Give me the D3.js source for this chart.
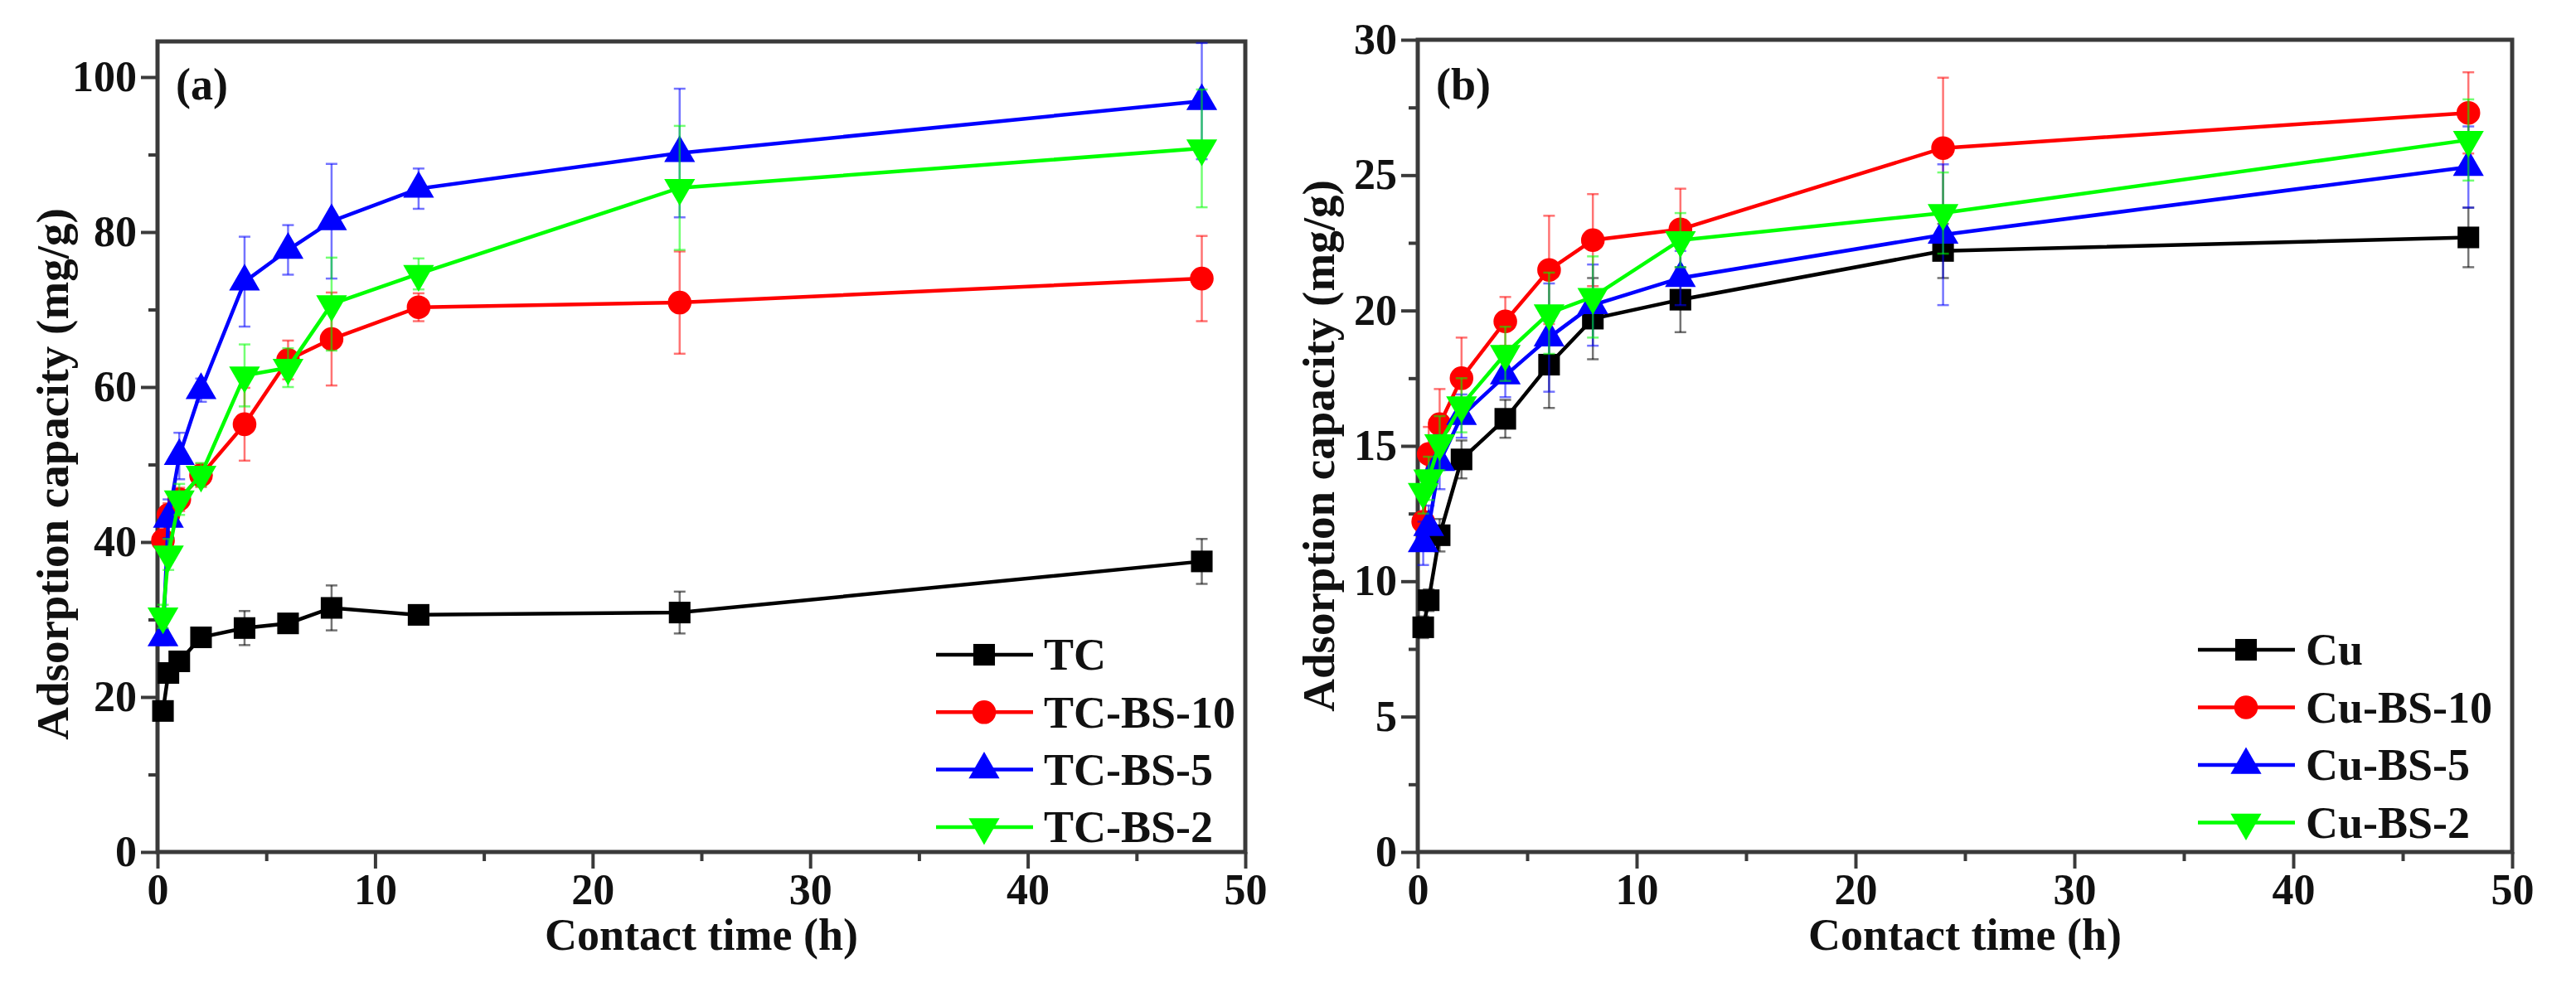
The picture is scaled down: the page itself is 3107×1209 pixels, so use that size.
<!DOCTYPE html>
<html>
<head>
<meta charset="utf-8">
<script src="https://cdn.jsdelivr.net/npm/d3@7"></script>
<style>
  body { margin: 0; background: #fff; }
  svg { display: block; }
  text { font-family: "Liberation Serif", "Times New Roman", serif; font-weight: bold; fill: #111; }
</style>
</head>
<body>
<svg id="chart"></svg>
<script>
// size
const width = 3107;
const height = 1209;

// contact times (h), shared by both panels
const times = [0.25, 0.5, 1, 2, 4, 6, 8, 12, 24, 48];

// panel (a) - tetracycline
const tcNames = ["TC", "TC-BS-10", "TC-BS-5", "TC-BS-2"];
const tcPlain = [18.2, 23.1, 24.6, 27.7, 28.9, 29.5, 31.5, 30.6, 30.9, 37.5];
const tcPlainErr = [0.8, 1.0, 1.0, 1.2, 2.2, 1.0, 2.9, 1.0, 2.7, 2.9];
const tcBs10 = [40.2, 43.5, 45.5, 48.6, 55.2, 63.5, 66.2, 70.3, 70.9, 74.0];
const tcBs10Err = [1.5, 1.5, 1.5, 1.5, 4.7, 2.5, 6.0, 1.8, 6.6, 5.5];
const tcBs5 = [27.7, 43.0, 51.1, 59.6, 73.6, 77.7, 81.4, 85.6, 90.2, 96.9];
const tcBs5Err = [1.0, 2.5, 3.0, 1.5, 5.8, 3.2, 7.4, 2.6, 8.3, 7.5];
const tcBs2 = [30.4, 38.4, 45.5, 48.7, 61.5, 62.5, 70.7, 74.6, 85.7, 90.8];
const tcBs2Err = [1.5, 2.0, 2.0, 1.5, 4.0, 2.5, 6.0, 2.0, 8.0, 7.6];

// panel (b) - copper
const cuNames = ["Cu", "Cu-BS-10", "Cu-BS-5", "Cu-BS-2"];
const cuPlain = [8.3, 9.3, 11.7, 14.5, 16.0, 18.0, 19.7, 20.4, 22.2, 22.7];
const cuPlainErr = [0.4, 0.4, 0.6, 0.7, 0.7, 1.6, 1.5, 1.2, 1.0, 1.1];
const cuBs10 = [12.2, 14.7, 15.8, 17.5, 19.6, 21.5, 22.6, 23.0, 26.0, 27.3];
const cuBs10Err = [1.0, 1.0, 1.3, 1.5, 0.9, 2.0, 1.7, 1.5, 2.6, 1.5];
const cuBs5 = [11.4, 12.0, 14.4, 16.1, 17.6, 19.0, 20.2, 21.2, 22.8, 25.3];
const cuBs5Err = [0.8, 0.8, 1.0, 0.8, 0.8, 2.0, 1.5, 1.0, 2.6, 1.5];
const cuBs2 = [13.3, 13.8, 15.1, 16.5, 18.4, 19.9, 20.5, 22.6, 23.6, 26.3];
const cuBs2Err = [0.8, 0.8, 1.0, 1.0, 1.0, 1.5, 1.5, 1.0, 1.5, 1.5];

// tick values
const xTicks = [0, 10, 20, 30, 40, 50];
const xMinor = [5, 15, 25, 35, 45];
const yTicksA = [0, 20, 40, 60, 80, 100];
const yMinorA = [10, 30, 50, 70, 90];
const yTicksB = [0, 5, 10, 15, 20, 25, 30];
const yMinorB = [2.5, 7.5, 12.5, 17.5, 22.5, 27.5];

// styles per series: square, circle, up triangle, down triangle
const colors = ["#000000", "#ff0000", "#0000ff", "#00ff00"];
const symbols = [d3.symbolSquare, d3.symbolCircle, d3.symbolTriangle, d3.symbolTriangle];
const symbolSize = [680, 640, 600, 600];
const symbolRot = [0, 0, 0, 180];

const svg = d3.select("#chart")
    .attr("width", width)
    .attr("height", height);

svg.append("rect").attr("width", width).attr("height", height).attr("fill", "#fff");

function build(names, vals, errs) {
    return names.map((name, i) => ({
        name: name,
        idx: i,
        points: times.map((t, j) => ({ t: t, v: vals[i][j], e: errs[i][j] }))
    }));
}

// draw one panel
function panel(cfg) {
    const x = d3.scaleLinear().domain([0, 50]).range([cfg.left, cfg.right]);
    const y = d3.scaleLinear().domain([0, cfg.yMax]).range([cfg.bottom, cfg.top]);
    const g = svg.append("g");

    // frame
    g.append("rect")
        .attr("x", cfg.left).attr("y", cfg.top)
        .attr("width", cfg.right - cfg.left).attr("height", cfg.bottom - cfg.top)
        .attr("fill", "none").attr("stroke", "#3a3a3a").attr("stroke-width", 5);

    // minor ticks
    g.append("g").attr("transform", `translate(0,${cfg.bottom})`)
        .call(d3.axisBottom(x).tickValues(xMinor).tickSize(11).tickFormat(""))
        .call(a => a.select(".domain").remove())
        .selectAll("line").attr("stroke", "#3a3a3a").attr("stroke-width", 4);
    g.append("g").attr("transform", `translate(${cfg.left},0)`)
        .call(d3.axisLeft(y).tickValues(cfg.yMinor).tickSize(11).tickFormat(""))
        .call(a => a.select(".domain").remove())
        .selectAll("line").attr("stroke", "#3a3a3a").attr("stroke-width", 4);

    // major ticks + labels
    const gx = g.append("g").attr("transform", `translate(0,${cfg.bottom})`)
        .call(d3.axisBottom(x).tickValues(xTicks).tickSize(20).tickPadding(6).tickFormat(d3.format("d")));
    const gy = g.append("g").attr("transform", `translate(${cfg.left},0)`)
        .call(d3.axisLeft(y).tickValues(cfg.yTicks).tickSize(20).tickPadding(5).tickFormat(d3.format("d")));
    [gx, gy].forEach(a => {
        a.select(".domain").remove();
        a.selectAll("line").attr("stroke", "#3a3a3a").attr("stroke-width", 4);
        a.selectAll("text")
            .attr("font-family", "'Liberation Serif', 'Times New Roman', serif")
            .attr("font-weight", "bold")
            .attr("font-size", 52)
            .attr("fill", "#111");
    });

    // axis titles
    g.append("text")
        .attr("text-anchor", "middle")
        .attr("font-size", 54)
        .attr("x", (cfg.left + cfg.right) / 2).attr("y", 1146)
        .text("Contact time (h)");
    g.append("text")
        .attr("text-anchor", "middle")
        .attr("font-size", 55)
        .attr("transform", `translate(${cfg.yTitleX}, ${cfg.yTitleY}) rotate(-90)`)
        .text("Adsorption capacity (mg/g)");

    // panel letter
    g.append("text")
        .attr("font-size", 54)
        .attr("x", cfg.left + 22).attr("y", 120)
        .text(cfg.letter);

    const line = d3.line().x(d => x(d.t)).y(d => y(d.v));

    cfg.series.forEach(s => {
        const sg = g.append("g");
        const col = colors[s.idx];

        sg.append("path")
            .datum(s.points)
            .attr("d", line)
            .attr("fill", "none")
            .attr("stroke", col)
            .attr("stroke-width", 4.5);

        // error bars
        const eb = sg.selectAll(".err")
            .data(s.points)
            .enter()
            .append("g")
            .attr("stroke", col)
            .attr("stroke-opacity", 0.55)
            .attr("stroke-width", 2.5);
        eb.append("line")
            .attr("x1", d => x(d.t)).attr("x2", d => x(d.t))
            .attr("y1", d => y(d.v - d.e)).attr("y2", d => y(d.v + d.e));
        eb.append("line")
            .attr("x1", d => x(d.t) - 7).attr("x2", d => x(d.t) + 7)
            .attr("y1", d => y(d.v + d.e)).attr("y2", d => y(d.v + d.e));
        eb.append("line")
            .attr("x1", d => x(d.t) - 7).attr("x2", d => x(d.t) + 7)
            .attr("y1", d => y(d.v - d.e)).attr("y2", d => y(d.v - d.e));

        // markers
        sg.selectAll(".mk")
            .data(s.points)
            .enter()
            .append("path")
            .attr("d", d3.symbol().type(symbols[s.idx]).size(symbolSize[s.idx]))
            .attr("transform", d => `translate(${x(d.t)},${y(d.v)}) rotate(${symbolRot[s.idx]})`)
            .attr("fill", col);
    });

    // legend
    const lg = g.append("g");
    cfg.series.forEach((s, i) => {
        const cy = cfg.legTop + i * cfg.legStep;
        const col = colors[s.idx];
        lg.append("line")
            .attr("x1", cfg.legX).attr("x2", cfg.legX + 117)
            .attr("y1", cy).attr("y2", cy)
            .attr("stroke", col).attr("stroke-width", 4.5);
        lg.append("path")
            .attr("d", d3.symbol().type(symbols[s.idx]).size(symbolSize[s.idx]))
            .attr("transform", `translate(${cfg.legX + 58},${cy}) rotate(${symbolRot[s.idx]})`)
            .attr("fill", col);
        lg.append("text")
            .attr("x", cfg.legX + 130).attr("y", cy)
            .attr("dy", "0.34em")
            .attr("font-size", 54)
            .text(s.name);
    });
}

panel({
    left: 190, right: 1502, top: 50, bottom: 1028,
    yMax: 104.6, yTicks: yTicksA, yMinor: yMinorA,
    yTitleX: 82, yTitleY: 572, letter: "(a)",
    legX: 1129, legTop: 790, legStep: 69.3,
    series: build(tcNames, [tcPlain, tcBs10, tcBs5, tcBs2], [tcPlainErr, tcBs10Err, tcBs5Err, tcBs2Err])
});

panel({
    left: 1710, right: 3030, top: 48, bottom: 1028,
    yMax: 30, yTicks: yTicksB, yMinor: yMinorB,
    yTitleX: 1609, yTitleY: 538, letter: "(b)",
    legX: 2651, legTop: 784, legStep: 69.5,
    series: build(cuNames, [cuPlain, cuBs10, cuBs5, cuBs2], [cuPlainErr, cuBs10Err, cuBs5Err, cuBs2Err])
});
</script>
</body>
</html>
